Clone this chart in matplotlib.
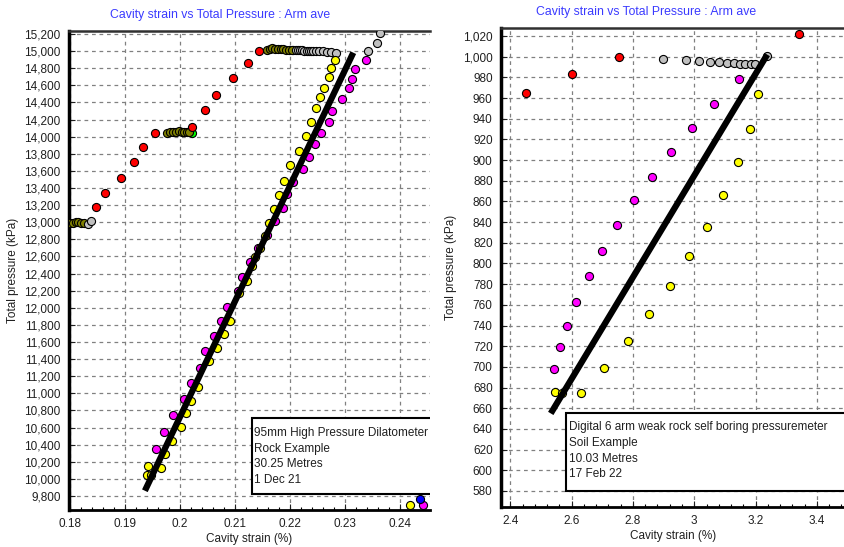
import matplotlib
matplotlib.use('Agg')
import matplotlib.pyplot as plt
from matplotlib.patches import Rectangle
from matplotlib.ticker import MultipleLocator, AutoMinorLocator, FuncFormatter

plt.rcParams['font.family'] = ['Liberation Sans', 'DejaVu Sans']

# ---- left test: 95mm HPD, rock ----
red_x = [0.1848, 0.1864, 0.1892, 0.1916, 0.1932, 0.1954, 0.2022, 0.2045, 0.2066, 0.2096, 0.2124, 0.2144]
red_y = [13174, 13345, 13520, 13704, 13883, 14039, 14117, 14308, 14487, 14682, 14857, 15001]

olive_x = [0.1800, 0.1805, 0.1810, 0.1815, 0.1820, 0.1826,
           0.1976, 0.1982, 0.1988, 0.1993, 0.1998, 0.2003, 0.2008, 0.2012, 0.2016,
           0.2158, 0.2163, 0.2168, 0.2173, 0.2178, 0.2183, 0.2188, 0.2193, 0.2198, 0.2203]
olive_y = [12995, 12995, 12998, 12998, 12995, 12992,
           14047, 14050, 14055, 14060, 14062, 14060, 14058, 14055, 14050,
           15015, 15025, 15035, 15030, 15025, 15020, 15020, 15015, 15015, 15012]

green_x = [0.2021, 0.2206]
green_y = [14040, 15013]

grey_x = [0.1833, 0.1838,
          0.2210, 0.2214, 0.2218, 0.2222, 0.2226, 0.2230, 0.2234, 0.2238, 0.2242, 0.2247,
          0.2253, 0.2260, 0.2268, 0.2275, 0.2283,
          0.2342, 0.2359, 0.2363]
grey_y = [12985, 13010,
          15010, 15010, 15008, 15008, 15005, 15005, 15005, 15003, 15003, 15000,
          15000, 14998, 14995, 14990, 14982,
          15001, 15098, 15208]

mag_x = [0.1956, 0.1970, 0.1987, 0.2008, 0.2020, 0.2036, 0.2045, 0.2062, 0.2075, 0.2085,
         0.2105, 0.2113, 0.2127, 0.2141, 0.2158, 0.2173, 0.2188, 0.2195, 0.2206, 0.2223,
         0.2235, 0.2245, 0.2256, 0.2270, 0.2277, 0.2294, 0.2307, 0.2312, 0.2319, 0.2338,
         0.2442]
mag_y = [10353, 10548, 10744, 10930, 11117, 11296, 11492, 11670, 11849, 12013,
         12200, 12363, 12530, 12695, 12851, 13018, 13163, 13326, 13474, 13618,
         13766, 13920, 14046, 14175, 14304, 14437, 14566, 14678, 14794, 14896,
         9699]

yel_x = [0.1939, 0.1942, 0.1948, 0.1965, 0.1972, 0.1986, 0.2002, 0.2010, 0.2019, 0.2033,
         0.2053, 0.2067, 0.2079, 0.2091, 0.2107, 0.2122, 0.2130, 0.2137, 0.2145, 0.2155,
         0.2162, 0.2170, 0.2180, 0.2189, 0.2200, 0.2216, 0.2229, 0.2238, 0.2248, 0.2255,
         0.2262, 0.2271, 0.2275, 0.2281, 0.2418]
yel_y = [10046, 10154, 10050, 10124, 10287, 10443, 10603, 10767, 10914, 11071,
         11382, 11534, 11690, 11849, 12176, 12317, 12492, 12597, 12702, 12843,
         12988, 13155, 13322, 13485, 13665, 13833, 14008, 14175, 14332, 14460,
         14573, 14694, 14806, 14896, 9692]

blue_x = [0.2436]
blue_y = [9769]

fit1_x = [0.1936, 0.2315]
fit1_y = [9862, 14982]

info1 = ['95mm High Pressure Dilatometer', 'Rock Example', '30.25 Metres', '1 Dec 21']

# ---- right test: 6 arm SBP, soil ----
red2_x = [2.450, 2.602, 2.755, 3.343]
red2_y = [965, 983, 1000, 1022]

grey2_x = [2.899, 2.972, 3.016, 3.053, 3.081, 3.106, 3.129, 3.149, 3.166, 3.184, 3.198, 3.238]
grey2_y = [998, 997, 996, 995, 995, 994, 994, 993, 993, 993, 993, 1001]

mag2_x = [2.544, 2.561, 2.585, 2.614, 2.657, 2.700, 2.748, 2.804, 2.861, 2.925, 2.992, 3.064, 3.146]
mag2_y = [698, 719, 740, 763, 788, 812, 837, 861, 884, 908, 931, 954, 978]

yel2_x = [2.545, 2.570, 2.631, 2.707, 2.783, 2.851, 2.921, 2.984, 3.042, 3.095, 3.143, 3.182, 3.209]
yel2_y = [676, 675, 675, 699, 725, 751, 778, 807, 835, 866, 898, 930, 964]

fit2_x = [2.532, 3.238]
fit2_y = [655, 1002]

info2 = ['Digital 6 arm weak rock self boring pressuremeter', 'Soil Example', '10.03 Metres', '17 Feb 22']

title = 'Cavity strain vs Total Pressure : Arm ave'
W, H = 845, 547

fig = plt.figure(figsize=(W / 100, H / 100), dpi=100)
ax1 = fig.add_axes([69 / W, 1 - 510 / H, (430 - 69) / W, (510 - 31) / H])
ax2 = fig.add_axes([501 / W, 1 - 507 / H, (845 - 501) / W, (507 - 28) / H])

mk = dict(s=34, edgecolors='black', linewidths=0.8, zorder=3)


def style(ax):
    ax.grid(True, color='#808080', linestyle=(0, (3, 3)), linewidth=0.9)
    ax.set_axisbelow(True)
    ax.spines['right'].set_visible(False)
    ax.spines['left'].set_linewidth(2.5)
    ax.spines['bottom'].set_linewidth(2.0)
    ax.spines['top'].set_linewidth(1.8)
    ax.spines['top'].set_color('#303030')
    ax.tick_params(direction='in', length=4, width=0.8, labelsize=8.5, colors='#202020', pad=6)
    ax.tick_params(which='minor', direction='in', length=2.5, width=0.8)
    ax.xaxis.set_minor_locator(AutoMinorLocator(5))
    ax.set_xlabel('Cavity strain (%)', fontsize=8.5, color='#202020', labelpad=2)
    ax.set_ylabel('Total pressure (kPa)', fontsize=8.5, color='#202020')
    ax.yaxis.set_major_formatter(FuncFormatter(lambda v, p: f'{v:,.0f}'))


def info_box(ax, x0, y0, y1, lines, tx, ty0, dy):
    ax.add_patch(Rectangle((x0, y0), 1.2, y1 - y0, transform=ax.transAxes,
                           facecolor='white', edgecolor='black', linewidth=1.5,
                           zorder=5, clip_on=True))
    for i, t in enumerate(lines):
        ax.text(tx, ty0 - i * dy, t, transform=ax.transAxes, fontsize=8.5,
                color='#202020', va='center', ha='left', zorder=6)


# left chart
ax1.scatter(green_x, green_y, c='#00ff00', **mk)
ax1.scatter(olive_x, olive_y, c='#808000', **mk)
ax1.scatter(grey_x, grey_y, c='#c0c0c0', **mk)
ax1.scatter(red_x, red_y, c='#ff0000', **mk)
ax1.scatter(mag_x, mag_y, c='#ff00ff', **mk)
ax1.scatter(yel_x, yel_y, c='#ffff00', **mk)
ax1.scatter(blue_x, blue_y, c='#0000ff', **mk)
ax1.plot(fit1_x, fit1_y, color='black', linewidth=4.5, solid_capstyle='butt', zorder=4)
ax1.set_xlim(0.1798, 0.24545)
ax1.set_ylim(9637, 15235)
ax1.xaxis.set_major_locator(MultipleLocator(0.01))
ax1.xaxis.set_major_formatter(FuncFormatter(lambda v, p: f'{v:g}'))
ax1.yaxis.set_major_locator(MultipleLocator(200))
style(ax1)
info_box(ax1, 0.506, 0.0334, 0.1914, info1, 0.513, 0.160, 0.0325)

# right chart
ax2.scatter(grey2_x, grey2_y, c='#c0c0c0', **mk)
ax2.scatter(red2_x, red2_y, c='#ff0000', **mk)
ax2.scatter(mag2_x, mag2_y, c='#ff00ff', **mk)
ax2.scatter(yel2_x, yel2_y, c='#ffff00', **mk)
ax2.plot(fit2_x, fit2_y, color='black', linewidth=4.5, solid_capstyle='butt', zorder=4)
ax2.set_xlim(2.3697, 3.4917)
ax2.set_ylim(564.5, 1027.7)
ax2.xaxis.set_major_locator(MultipleLocator(0.2))
ax2.xaxis.set_major_formatter(FuncFormatter(lambda v, p: f'{v:g}'))
ax2.yaxis.set_major_locator(MultipleLocator(20))
style(ax2)
info_box(ax2, 0.189, 0.034, 0.197, info2, 0.198, 0.166, 0.0325)

fig.text(220 / W, 1 - 15 / H, title, color='#3a3aff', fontsize=8.8, ha='center', va='center')
fig.text(646 / W, 1 - 12 / H, title, color='#3a3aff', fontsize=8.8, ha='center', va='center')

fig.savefig('out.png', dpi=100)
